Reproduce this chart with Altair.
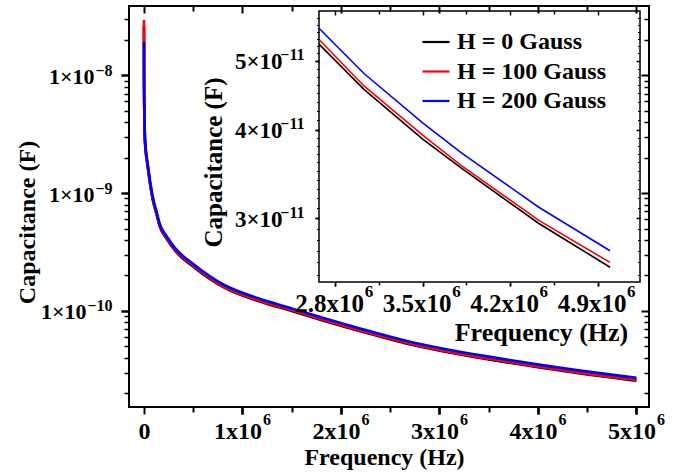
import json
import altair as alt
import pandas as pd

# ---------------- data ----------------
series_names = ["H = 0 Gauss", "H = 100 Gauss", "H = 200 Gauss"]
series_colors = ["#000000", "#ff0000", "#0000ff"]

freq_hz = [1e2, 1e3, 5e3, 1e4, 4e4, 9e4, 1.29e5, 1.6e5, 2.3e5, 3.2e5, 5.2e5, 8.2e5,
           1.16e6, 1.5e6, 1.84e6, 2.3e6, 2.67e6, 3.03e6, 3.5e6, 3.81e6, 4.43e6, 5.0e6]
cap_0_gauss = [2.60e-8, 9.0e-9, 4.25e-9, 2.75e-9, 1.63e-9, 8.75e-10, 6.55e-10, 5.22e-10, 4.10e-10,
               3.22e-10, 2.31e-10, 1.57e-10, 1.215e-10, 1.00e-10, 8.20e-11, 6.38e-11,
               5.28e-11, 4.56e-11, 3.88e-11, 3.53e-11, 2.95e-11, 2.56e-11]
cap_100_gauss = [2.94e-8, 9.5e-9, 4.30e-9, 2.80e-9, 1.66e-9, 8.90e-10, 6.65e-10, 5.30e-10, 4.16e-10,
                 3.27e-10, 2.35e-10, 1.59e-10, 1.235e-10, 1.015e-10, 8.32e-11, 6.46e-11,
                 5.36e-11, 4.61e-11, 3.93e-11, 3.56e-11, 2.98e-11, 2.60e-11]
cap_200_gauss = [1.92e-8, 8.5e-9, 4.45e-9, 2.90e-9, 1.72e-9, 9.20e-10, 6.88e-10, 5.48e-10, 4.30e-10,
                 3.38e-10, 2.43e-10, 1.65e-10, 1.28e-10, 1.05e-10, 8.62e-11, 6.70e-11,
                 5.56e-11, 4.80e-11, 4.09e-11, 3.71e-11, 3.11e-11, 2.70e-11]

# ---------------- ticks and tick labels ----------------
main_x_ticks = [0, 1e6, 2e6, 3e6, 4e6, 5e6]
main_x_labels_base = ["0", "1x10", "2x10", "3x10", "4x10", "5x10"]
main_x_labels_sup = ["", "6", "6", "6", "6", "6"]
main_x_minor = [5e5, 1.5e6, 2.5e6, 3.5e6, 4.5e6]

main_y_ticks = [1e-10, 1e-9, 1e-8]
main_y_labels_base = ["1×10", "1×10", "1×10"]
main_y_labels_exp = ["−10", "−9", "−8"]
main_y_minor = [2e-11, 3e-11, 4e-11, 5e-11, 6e-11, 7e-11, 8e-11, 9e-11,
                2e-10, 3e-10, 4e-10, 5e-10, 6e-10, 7e-10, 8e-10, 9e-10,
                2e-9, 3e-9, 4e-9, 5e-9, 6e-9, 7e-9, 8e-9, 9e-9,
                2e-8, 3e-8]

inset_x_ticks = [2.8e6, 3.5e6, 4.2e6, 4.9e6]
inset_x_labels_base = ["2.8x10", "3.5x10", "4.2x10", "4.9x10"]
inset_x_labels_sup = ["6", "6", "6", "6"]
inset_x_minor = [3.15e6, 3.85e6, 4.55e6]

inset_y_ticks = [3e-11, 4e-11, 5e-11]
inset_y_labels_base = ["3×10", "4×10", "5×10"]
inset_y_labels_exp = ["−11", "−11", "−11"]
inset_y_minor = [2.5e-11, 2.6e-11, 2.7e-11, 2.8e-11, 2.9e-11,
                 3.1e-11, 3.2e-11, 3.3e-11, 3.4e-11, 3.5e-11, 3.6e-11, 3.7e-11, 3.8e-11, 3.9e-11,
                 4.125e-11, 4.25e-11, 4.375e-11, 4.5e-11, 4.625e-11, 4.75e-11, 4.875e-11,
                 5.125e-11, 5.25e-11, 5.375e-11, 5.5e-11, 5.625e-11, 5.75e-11]

main_x_domain = [-1.52e5, 5.127e6]
main_y_domain = [1.53e-11, 3.87e-8]
inset_x_domain = [2.67e6, 5.24e6]
inset_y_domain = [2.44e-11, 5.88e-11]
inset_min_freq = 2.6e6

# ---------------- layout / style (pixels) ----------------
FONT = "Liberation Serif"
PLOT_W, PLOT_H = 520, 401
PAD = {"left": 129, "top": 6, "right": 44, "bottom": 68}
IN_L, IN_R, IN_T, IN_B = 190, 511, 5, 276

rows = []
for name, vals in zip(series_names, [cap_0_gauss, cap_100_gauss, cap_200_gauss]):
    for f, c in zip(freq_hz, vals):
        rows.append({"freq": f, "cap": c, "series": name})
df = pd.DataFrame(rows)


def label_expr(values, labels):
    return f"{json.dumps(labels, ensure_ascii=False)}[indexof({json.dumps(values)}, datum.value)]"


def axis(orient, values, size, width, offset=0, labels=None, **kw):
    base = dict(orient=orient, values=values, tickSize=size, tickWidth=width, offset=offset,
                domain=False, grid=False, tickColor="black", zindex=1, labelFlush=False,
                labelOverlap=False, labelBound=False)
    if labels is None:
        base.update(labels=False, title=None)
    else:
        base.update(labelExpr=label_expr(values, labels), labelColor="black", labelFont=FONT,
                    labelFontWeight="bold", titleColor="black", titleFont=FONT,
                    titleFontWeight="bold")
        if "title" not in kw:
            base["title"] = None
    base.update(kw)
    return alt.Axis(**base)


color_scale = alt.Scale(domain=series_names, range=series_colors)
legend_def = alt.Legend(
    orient="none", legendX=292, legendY=21, title=None, symbolType="stroke", symbolSize=729,
    symbolStrokeWidth=2.2, labelFont=FONT, labelFontSize=24, labelFontWeight="bold",
    labelColor="black", labelOffset=6, rowPadding=2.5, padding=0)


def ghost(base, xs, ys, xaxis, yaxis):
    return base.mark_line(opacity=0).encode(
        x=alt.X("freq:Q", scale=xs, axis=xaxis),
        y=alt.Y("cap:Q", scale=ys, axis=yaxis),
    )


# ---------------- main plot ----------------
xs_main = alt.Scale(domain=main_x_domain, nice=False, zero=False)
ys_main = alt.Scale(type="log", domain=main_y_domain, nice=False)
base_main = alt.Chart(df)

y_exp2_v = [v for v, e in zip(main_y_ticks, main_y_labels_exp) if len(e) == 2]
y_exp3_v = [v for v, e in zip(main_y_ticks, main_y_labels_exp) if len(e) == 3]
y_base2_l = [b for b, e in zip(main_y_labels_base, main_y_labels_exp) if len(e) == 2]
y_base3_l = [b for b, e in zip(main_y_labels_base, main_y_labels_exp) if len(e) == 3]

main_lines = base_main.mark_line(strokeWidth=2.7, interpolate="monotone").encode(
    x=alt.X("freq:Q", scale=xs_main, axis=axis(
        "bottom", main_x_ticks, 7, 2, labels=["0", "", "", "", "", ""],
        labelFontSize=24, labelPadding=5,
        title="Frequency (Hz)", titleFontSize=24, titleX=255, titleY=57,
        titleAlign="center", titleBaseline="alphabetic")),
    y=alt.Y("cap:Q", scale=ys_main, axis=axis(
        "left", main_y_ticks, 8, 2, labels=main_y_labels_exp,
        labelFontSize=16, labelPadding=9, labelOffset=-5, labelAlign="right",
        title="Capacitance (F)", titleFontSize=24, titleX=-95, titleY=216, titleAngle=270,
        titleAlign="center", titleBaseline="alphabetic")),
    color=alt.Color("series:N", scale=color_scale, legend=legend_def),
)

main_g1 = ghost(base_main, xs_main, ys_main,
                axis("bottom", main_x_ticks[1:], 7, 2, labels=main_x_labels_base[1:],
                     labelFontSize=24, labelPadding=5, labelOffset=-5),
                axis("left", y_exp2_v, 8, 2, labels=y_base2_l,
                     labelFontSize=22, labelPadding=27, labelOffset=1, labelAlign="right"))
main_g2 = ghost(base_main, xs_main, ys_main,
                axis("bottom", main_x_ticks[1:], 7, 2, labels=main_x_labels_sup[1:],
                     labelFontSize=16, labelPadding=-3, labelOffset=20, labelAlign="left"),
                axis("left", y_exp3_v, 8, 2, labels=y_base3_l,
                     labelFontSize=22, labelPadding=35, labelOffset=1, labelAlign="right"))
main_g3 = ghost(base_main, xs_main, ys_main,
                axis("bottom", main_x_minor, 5, 2),
                axis("left", main_y_minor, 5, 1.5))
main_g4 = ghost(base_main, xs_main, ys_main,
                axis("bottom", main_x_ticks, 7, 2, offset=-PLOT_H),
                axis("left", main_y_ticks, 8, 2, offset=-PLOT_W))
main_g5 = ghost(base_main, xs_main, ys_main,
                axis("bottom", main_x_minor, 5, 2, offset=-PLOT_H),
                axis("left", main_y_minor, 5, 1.5, offset=-PLOT_W))
main = alt.layer(main_lines, main_g1, main_g2, main_g3, main_g4, main_g5).resolve_axis(
    x="independent", y="independent")

# ---------------- inset ----------------
xs_in = alt.Scale(domain=inset_x_domain, range=[IN_L, IN_R], nice=False, zero=False)
ys_in = alt.Scale(type="log", domain=inset_y_domain, range=[IN_B, IN_T], nice=False)
base_in = alt.Chart(df).transform_filter(alt.datum.freq >= inset_min_freq)

frame = alt.Chart(pd.DataFrame({"k": [0]})).mark_rect(
    fill="white", stroke="black", strokeWidth=1.5).encode(
    x=alt.value(IN_L), x2=alt.value(IN_R), y=alt.value(IN_T), y2=alt.value(IN_B))

inset_lines = base_in.mark_line(strokeWidth=1.6).encode(
    x=alt.X("freq:Q", scale=xs_in, axis=axis(
        "bottom", inset_x_ticks, 4, 1.5, offset=IN_B - PLOT_H, labels=inset_x_labels_base,
        labelFontSize=25, labelPadding=5, labelOffset=-6,
        title="Frequency (Hz)", titleFontSize=26, titleX=412, titleY=58,
        titleAlign="center", titleBaseline="alphabetic")),
    y=alt.Y("cap:Q", scale=ys_in, axis=axis(
        "left", inset_y_ticks, 4, 1.5, offset=-IN_L, labels=inset_y_labels_base,
        labelFontSize=23, labelPadding=33, labelOffset=1, labelAlign="right",
        title="Capacitance (F)", titleFontSize=25, titleX=-98, titleY=156, titleAngle=270,
        titleAlign="center", titleBaseline="alphabetic")),
    color=alt.Color("series:N", scale=color_scale, legend=legend_def),
)

in_g1 = ghost(base_in, xs_in, ys_in,
              axis("bottom", inset_x_ticks, 4, 1.5, offset=IN_B - PLOT_H, labels=inset_x_labels_sup,
                   labelFontSize=17, labelPadding=-3, labelOffset=29, labelAlign="left"),
              axis("left", inset_y_ticks, 4, 1.5, offset=-IN_L, labels=inset_y_labels_exp,
                   labelFontSize=16, labelPadding=11, labelOffset=-6, labelAlign="right"))
in_g2 = ghost(base_in, xs_in, ys_in,
              axis("bottom", inset_x_minor, 3, 1.5, offset=IN_B - PLOT_H),
              axis("left", inset_y_minor, 2.5, 1, offset=-IN_L))
in_g3 = ghost(base_in, xs_in, ys_in,
              axis("bottom", inset_x_ticks, 4, 1.5, offset=IN_T - PLOT_H),
              axis("left", inset_y_ticks, 4, 1.5, offset=-IN_R))
in_g4 = ghost(base_in, xs_in, ys_in,
              axis("bottom", inset_x_minor, 3, 1.5, offset=IN_T - PLOT_H),
              axis("left", inset_y_minor, 2.5, 1, offset=-IN_R))
inset = alt.layer(frame, inset_lines, in_g1, in_g2, in_g3, in_g4).resolve_axis(
    x="independent", y="independent")

chart = alt.layer(main, inset).resolve_scale(x="independent", y="independent").properties(
    width=PLOT_W, height=PLOT_H, padding=PAD,
    autosize=alt.AutoSizeParams(type="none"),
    background="white",
).configure_view(stroke="black", strokeWidth=2)

chart.save("out.html", embed_options={"renderer": "svg", "actions": False})
